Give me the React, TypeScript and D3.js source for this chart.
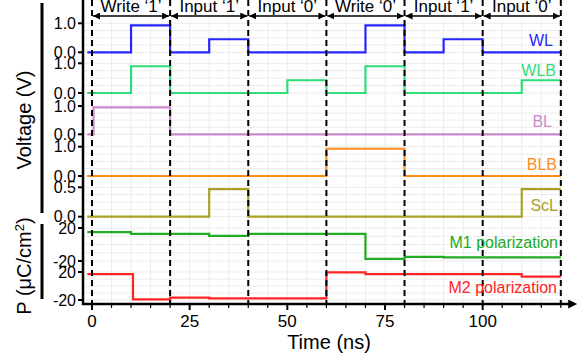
import * as d3 from "d3"

// phases shown along the top
const phaseNames = ["Write ‘1’", "Input ‘1’", "Input ‘0’", "Write ‘0’", "Input ‘1’", "Input ‘0’"]
const phaseEdges = [0, 20, 40, 60, 80, 100, 120]
const timeTicks = [0, 25, 50, 75, 100]

// tick values per panel kind
const voltTicks = [0, 1]
const sclTicks = [0, 0.5]
const polTicks = [-20, 20]

// step signals: time of each change and the level held after it
const wlTimes = [-1.2, 10, 20, 30, 40, 70, 80, 90, 100, 120]
const wlLevels = [0, 0.93, 0, 0.45, 0, 0.93, 0, 0.45, 0, 0]

const wlbTimes = [-1.2, 10, 20, 50, 60, 70, 80, 110, 120]
const wlbLevels = [0, 0.9, 0, 0.43, 0, 0.9, 0, 0.43, 0.43]

const blTimes = [-1.2, 0.4, 20, 120]
const blLevels = [0, 0.95, 0, 0]

const blbTimes = [-1.2, 60, 80, 120]
const blbLevels = [0, 0.93, 0, 0]

const sclTimes = [-1.2, 30, 40, 110, 120]
const sclLevels = [0, 0.47, 0, 0.47, 0.47]

const m1Times = [-1.2, 10, 30, 40, 70, 80, 90, 120]
const m1Levels = [15, 13, 10.5, 13, -17.5, -15, -15.5, -15.5]

const m2Times = [-1.2, 10.5, 20, 30, 60, 70, 110, 120]
const m2Levels = [17, -19, -16.7, -17.6, 19.5, 17, 13.5, 13.5]

const W = 587
const H = 362
const font = "'Liberation Sans', Arial, Helvetica, sans-serif"

const x = d3.scaleLinear().domain([-2.3, 124.4]).range([83, 578])
const axisY = 304

// panel layout: pixel of low tick / high tick
const panels = [
  { name: "WL", times: wlTimes, levels: wlLevels, ticks: voltTicks, fmt: "0.1f", py: [52.3, 23.3], color: "#2626ff", lx: 553, ly: 46 },
  { name: "WLB", times: wlbTimes, levels: wlbLevels, ticks: voltTicks, fmt: "0.1f", py: [93, 63.3], color: "#2fdc7a", lx: 556, ly: 76 },
  { name: "BL", times: blTimes, levels: blLevels, ticks: voltTicks, fmt: "0.1f", py: [134.3, 106], color: "#cc8acc", lx: 552, ly: 127 },
  { name: "BLB", times: blbTimes, levels: blbLevels, ticks: voltTicks, fmt: "0.1f", py: [176, 146.7], color: "#ff8c1e", lx: 557, ly: 170 },
  { name: "ScL", times: sclTimes, levels: sclLevels, ticks: sclTicks, fmt: "0.1f", py: [216.7, 187.3], color: "#a9a226", lx: 558, ly: 211 },
  { name: "M1 polarization", times: m1Times, levels: m1Levels, ticks: polTicks, fmt: "d", py: [261, 228], color: "#22aa22", lx: 558, ly: 248 },
  { name: "M2 polarization", times: m2Times, levels: m2Levels, ticks: polTicks, fmt: "d", py: [300, 272], color: "#ff2424", lx: 557, ly: 293 },
]

export default function App() {
  const gridTimes = d3.range(0, 121, 5)
  const minorTicks = d3.range(0, 121, 5).filter((t) => !timeTicks.includes(t))

  return (
    <svg width={W} height={H} style={{ position: "absolute", left: 0, top: 0, background: "#fff" }} fontFamily={font}>
      <defs>
        <marker id="arr" viewBox="0 0 10 10" refX="10" refY="5" markerWidth="7" markerHeight="7" markerUnits="userSpaceOnUse" orient="auto-start-reverse">
          <path d="M0,0 L10,5 L0,10 z" fill="#000" />
        </marker>
        <marker id="axarr" viewBox="0 0 10 10" refX="2" refY="5" markerWidth="11" markerHeight="9" markerUnits="userSpaceOnUse" orient="auto">
          <path d="M0,0 L10,5 L0,10 z" fill="#000" />
        </marker>
      </defs>

      {/* faint grid */}
      <g stroke="#ececec" strokeWidth={1}>
        {gridTimes.map((t) => (
          <line key={"g" + t} x1={x(t)} x2={x(t)} y1={20} y2={axisY} />
        ))}
        {panels.map((p, i) => {
          const y = d3.scaleLinear().domain(p.ticks).range(p.py)
          const lo = p.ticks[0]
          const hi = p.ticks[1]
          return d3.range(0, 5).map((k) => {
            const v = lo + ((hi - lo) * k) / 4
            return <line key={"h" + i + k} x1={x(-2.3)} x2={x(120)} y1={y(v)} y2={y(v)} />
          })
        })}
      </g>

      {/* signal traces */}
      {panels.map((p) => {
        const y = d3.scaleLinear().domain(p.ticks).range(p.py)
        const pts = p.times.map((t, i) => [t, p.levels[i]] as [number, number])
        const line = d3
          .line<[number, number]>()
          .x((d) => x(d[0]))
          .y((d) => y(d[1]))
          .curve(d3.curveStepAfter)
        return <path key={p.name} d={line(pts) ?? ""} fill="none" stroke={p.color} strokeWidth={2.2} />
      })}

      {/* dashed phase boundaries */}
      {phaseEdges.map((t) => (
        <line key={"d" + t} x1={x(t)} x2={x(t)} y1={0} y2={axisY} stroke="#000" strokeWidth={2} strokeDasharray="6,4" />
      ))}

      {/* phase arrows and names */}
      {phaseNames.map((name, i) => {
        const a = x(phaseEdges[i])
        const b = x(phaseEdges[i + 1])
        return (
          <g key={"ph" + i}>
            <line x1={a + 1} x2={b - 1} y1={16} y2={16} stroke="#000" strokeWidth={1.4} markerStart="url(#arr)" markerEnd="url(#arr)" />
            <text x={(a + b) / 2} y={11.5} textAnchor="middle" fontSize={17} fill="#000">
              {name}
            </text>
          </g>
        )
      })}

      {/* y axis */}
      <line x1={83} x2={83} y1={0} y2={axisY + 1} stroke="#000" strokeWidth={2.5} />
      {panels.map((p, i) => {
        const y = d3.scaleLinear().domain(p.ticks).range(p.py)
        const f = (v: number) => (p.fmt === "d" ? String(v) : v.toFixed(1))
        return p.ticks.map((v) => (
          <g key={"yt" + i + v}>
            <line x1={78} x2={83} y1={y(v)} y2={y(v)} stroke="#000" strokeWidth={2} />
            <text x={76} y={y(v)} dy="0.36em" textAnchor="end" fontSize={16} fill="#000">
              {f(v)}
            </text>
          </g>
        ))
      })}

      {/* x axis */}
      <line x1={82} x2={570} y1={axisY} y2={axisY} stroke="#000" strokeWidth={2.5} markerEnd="url(#axarr)" />
      {minorTicks.map((t) => (
        <line key={"mt" + t} x1={x(t)} x2={x(t)} y1={axisY} y2={axisY + 4} stroke="#000" strokeWidth={1.2} />
      ))}
      {timeTicks.map((t) => (
        <g key={"xt" + t}>
          <line x1={x(t)} x2={x(t)} y1={axisY} y2={axisY + 6} stroke="#000" strokeWidth={2} />
          <text x={x(t)} y={327} textAnchor="middle" fontSize={17} fill="#000">
            {t}
          </text>
        </g>
      ))}
      <text x={329} y={349} textAnchor="middle" fontSize={20} fill="#000">
        Time (ns)
      </text>

      {/* signal names */}
      {panels.map((p) => (
        <text key={"l" + p.name} x={p.lx} y={p.ly} textAnchor="end" fontSize={16} fill={p.color}>
          {p.name}
        </text>
      ))}

      {/* y titles with bars */}
      <rect x={40.5} y={3} width={3} height={210} fill="#000" />
      <rect x={40.5} y={224} width={3} height={75} fill="#000" />
      <text transform="translate(31,120) rotate(-90)" textAnchor="middle" fontSize={20} fill="#000">
        Voltage (V)
      </text>
      <text transform="translate(31,266) rotate(-90)" textAnchor="middle" fontSize={20} fill="#000">
        P (μC/cm<tspan fontSize={13} dy={-7}>2</tspan>
        <tspan dy={7}>)</tspan>
      </text>
    </svg>
  )
}
